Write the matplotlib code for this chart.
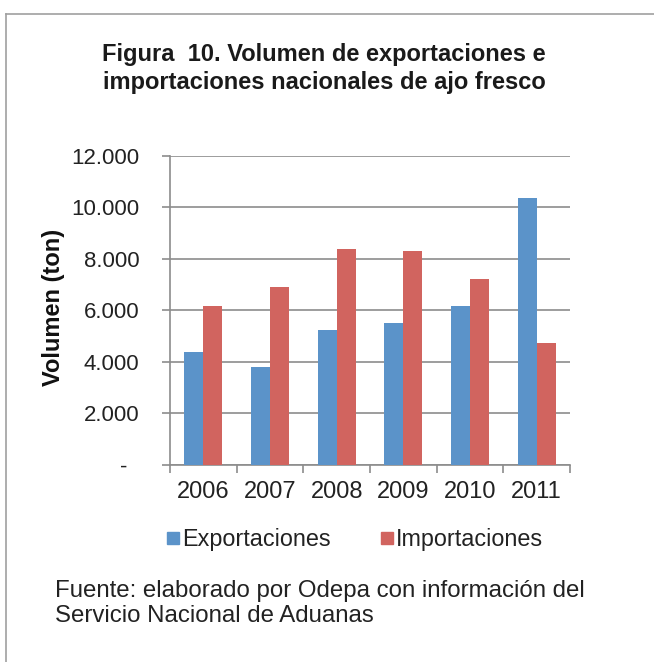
import numpy as np
import matplotlib
matplotlib.use("Agg")
import matplotlib.pyplot as plt
from matplotlib.lines import Line2D

plt.rcParams['font.family'] = ['Liberation Sans', 'DejaVu Sans']

years = ['2006', '2007', '2008', '2009', '2010', '2011']
exportaciones = [4390, 3810, 5240, 5520, 6180, 10370]
importaciones = [6180, 6910, 8390, 8310, 7220, 4740]
ytick_vals = [0, 2000, 4000, 6000, 8000, 10000, 12000]
ytick_labels = ['-  ', '2.000', '4.000', '6.000', '8.000', '10.000', '12.000']

c_exp = '#5B93C9'
c_imp = '#D1645F'
grid_c = '#8C8C8C'
txt_c = '#222222'

fig = plt.figure(figsize=(6.54, 6.62), dpi=100)
# axes: x 170..570 px, y 156..465 px
ax = fig.add_axes([0.2599, 0.2976, 0.6116, 0.4668])

x = np.arange(len(years))
w = 0.285
ax.bar(x - w / 2, exportaciones, w, color=c_exp, zorder=3)
ax.bar(x + w / 2, importaciones, w, color=c_imp, zorder=3)

ax.set_xlim(-0.5, len(years) - 0.5)
ax.set_ylim(0, 12000)
ax.set_yticks(ytick_vals)
ax.set_yticklabels(ytick_labels, fontsize=16, color=txt_c)
ax.set_xticks(x)
ax.set_xticklabels(years, fontsize=17, color=txt_c)
ax.tick_params(axis='x', length=0, pad=11.5)
ax.set_xticks(np.arange(len(years) + 1) - 0.5, minor=True)
ax.tick_params(axis='x', which='minor', length=6, color=grid_c, width=1.2)
ax.tick_params(axis='y', length=6, color=grid_c, width=1.2, pad=16)

ax.yaxis.grid(True, color=grid_c, linewidth=1.2, zorder=0)
for s in ['top', 'right']:
    ax.spines[s].set_visible(False)
for s in ['left', 'bottom']:
    ax.spines[s].set_color(grid_c)
    ax.spines[s].set_linewidth(1.2)

fig.text(0.0818, 0.5363, 'Volumen (ton)', rotation=90, ha='center', va='center',
         fontsize=17, fontweight='bold', color='#111111')

fig.text(0.4954, 0.9085, 'Figura  10. Volumen de exportaciones e', ha='center',
         va='baseline', fontsize=17, fontweight='bold', color='#1a1a1a')
fig.text(0.4954, 0.8660, 'importaciones nacionales de ajo fresco', ha='center',
         va='baseline', fontsize=17, fontweight='bold', color='#1a1a1a')

handles = [Line2D([], [], marker='s', linestyle='', color=c_exp, markersize=8.5),
           Line2D([], [], marker='s', linestyle='', color=c_imp, markersize=8.5)]
fig.legend(handles, ['Exportaciones', 'Importaciones'], loc='center',
           bbox_to_anchor=(0.540, 0.185), ncol=2, frameon=False, fontsize=16.8,
           handletextpad=0.0, columnspacing=2.0, handlelength=0.8, labelcolor=txt_c)

fig.text(0.084, 0.0982, 'Fuente: elaborado por Odepa con información del',
         ha='left', va='baseline', fontsize=17.3, color=txt_c)
fig.text(0.084, 0.0604, 'Servicio Nacional de Aduanas',
         ha='left', va='baseline', fontsize=17.3, color=txt_c)

fig.add_artist(Line2D([0.0099, 0.0099], [0, 0.979], color='#A0A0A0', linewidth=1.2))
fig.add_artist(Line2D([0.0099, 1.0], [0.979, 0.979], color='#A0A0A0', linewidth=1.2))

fig.savefig('out.png', dpi=100)
